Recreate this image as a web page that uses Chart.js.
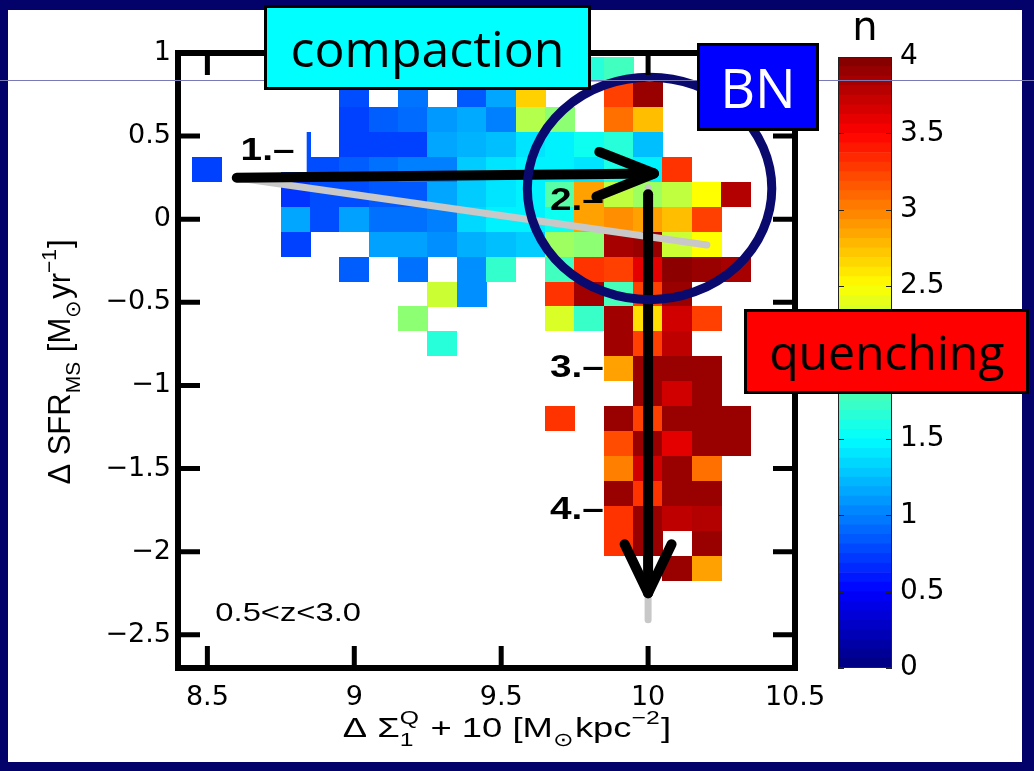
<!DOCTYPE html>
<html>
<head>
<meta charset="utf-8">
<script src="https://cdn.jsdelivr.net/npm/chart.js@4"></script>
<style>
  body { margin: 0; background: #02026a; width: 1034px; height: 771px; overflow: hidden; position: relative; }
  #panel { position: absolute; left: 8px; top: 10px; width: 1014px; height: 752px; background: #fff; }
  canvas { position: absolute; left: 0; top: 0; }
  .rule { position: absolute; left: 0; top: 80px; width: 1034px; height: 1px; background: #7a7ab8; }
  .box { position: absolute; border: 3px solid #000; box-sizing: border-box; display: flex;
         align-items: center; justify-content: center; font-family: "Open Sans", sans-serif; line-height: 1; }
  #comp { left: 264px; top: 5px; width: 327px; height: 85px; background: #00ffff; color: #000; font-size: 50px; }
  #bn { left: 697px; top: 43px; width: 122px; height: 88px; background: #0000ff; color: #fff; font-size: 54px; }
  #quen { left: 744px; top: 309px; width: 285px; height: 85px; background: #ff0000; color: #000; font-size: 48px; }
</style>
</head>
<body>
<div id="panel"></div>
<canvas id="main" width="1034" height="771"></canvas>
<canvas id="cbar" width="1034" height="771"></canvas>
<div class="rule"></div>
<div class="box" id="comp">compaction</div>
<div class="box" id="bn">BN</div>
<div class="box" id="quen">quenching</div>
<script>
// bin centres of the 2D histogram
const xCenters = [8.5, 8.6, 8.7, 8.8, 8.9, 9.0, 9.1, 9.2, 9.3, 9.4, 9.5, 9.6, 9.7, 9.8, 9.9, 10.0, 10.1, 10.2, 10.3];
const yCenters = [0.9, 0.75, 0.6, 0.45, 0.3, 0.15, 0, -0.15, -0.3, -0.45, -0.6, -0.75, -0.9, -1.05, -1.2, -1.35, -1.5, -1.65, -1.8, -1.95, -2.1];
const binWidth = 0.1;
const binHeight = 0.15;

// median Sersic n per bin (null = empty)
const _ = null;
const nGrid = [
  [_, _, _, _, _, _, _, _, _, _, _, _, _, 1.65, 1.75, _, _, _, _],
  [_, _, _, _, _, 0.8, _, 0.95, _, 0.85, 1.15, 2.68, _, _, 3.25, 3.9, _, _, _],
  [_, _, _, _, _, 0.75, 0.87, 0.92, 1.1, 1.17, 1.0, 2.2, 2.05, _, 3.06, 2.75, _, _, _],
  [_, _, _, 0.8, _, 0.75, 0.75, 0.75, 1.15, 1.2, 1.25, 1.4, 1.45, 1.55, 1.65, 1.25, _, _, _],
  [0.75, _, _, 0.8, 0.8, 0.87, 0.94, 1.0, 1.0, 1.3, 1.4, 1.45, 1.45, 1.4, 1.6, 1.45, 3.3, _, _],
  [_, _, _, 0.7, 0.8, 0.8, 0.85, 0.85, 1.15, 1.3, 1.4, 1.45, 1.85, 2.87, 2.25, 2.12, 2.25, 2.5, 3.8],
  [_, _, _, 1.15, 0.8, 1.13, 0.94, 0.94, 1.0, 1.35, 1.45, 1.45, 1.55, 2.87, 2.94, 2.87, 2.75, 3.25, _],
  [_, _, _, 0.75, _, _, 1.13, 1.13, 1.06, 1.19, 1.25, 1.3, 2.12, 2.05, 3.85, 3.9, 2.3, 2.5, _],
  [_, _, _, _, _, 0.87, _, 0.94, _, 1.06, 1.7, _, 1.75, 3.3, 3.25, 3.6, 3.95, 3.9, 3.85],
  [_, _, _, _, _, _, _, _, 2.3, 1.06, _, _, 3.3, 3.87, 1.78, 3.25, 3.9, _, _],
  [_, _, _, _, _, _, _, 2.05, _, _, _, _, 2.35, 1.72, 3.87, 2.62, 3.68, 3.25, _],
  [_, _, _, _, _, _, _, _, 1.65, _, _, _, _, _, 3.87, 3.25, 3.75, _, _],
  [_, _, _, _, _, _, _, _, _, _, _, _, _, _, 2.87, 3.9, 3.9, 3.9, _],
  [_, _, _, _, _, _, _, _, _, _, _, _, _, _, _, 3.9, 3.68, 3.9, _],
  [_, _, _, _, _, _, _, _, _, _, _, _, 3.3, _, 3.9, 3.25, 3.9, 3.9, 3.9],
  [_, _, _, _, _, _, _, _, _, _, _, _, _, _, 3.2, 3.9, 3.6, 3.9, 3.9],
  [_, _, _, _, _, _, _, _, _, _, _, _, _, _, 3.0, 3.68, 3.9, 3.06, _],
  [_, _, _, _, _, _, _, _, _, _, _, _, _, _, 3.9, 3.3, 3.9, 3.9, _],
  [_, _, _, _, _, _, _, _, _, _, _, _, _, _, 3.3, 3.9, 3.75, 3.8, _],
  [_, _, _, _, _, _, _, _, _, _, _, _, _, _, 3.3, 3.9, _, 3.9, _],
  [_, _, _, _, _, _, _, _, _, _, _, _, _, _, _, _, 3.9, 2.87, _]
];

const xTicks = [8.5, 9, 9.5, 10, 10.5];
const yTicks = [-2.5, -2, -1.5, -1, -0.5, 0, 0.5, 1];
const cbTicks = [0, 0.5, 1, 1.5, 2, 2.5, 3, 3.5, 4];
const nMax = 4;

const FONT = '"Liberation Sans", Arial, sans-serif';
const TICKFONT = '"DejaVu Sans", sans-serif';

function jet(n) {
  const t = Math.max(0, Math.min(1, n / nMax));
  const c = v => Math.round(255 * Math.max(0, Math.min(1, v)));
  return 'rgb(' + c(1.5 - Math.abs(4 * t - 3)) + ',' + c(1.5 - Math.abs(4 * t - 2)) + ',' + c(1.5 - Math.abs(4 * t - 1)) + ')';
}
const fmt = v => (v < 0 ? '\u2212' : '') + Math.abs(v);

let cells = [];
yCenters.forEach((y, i) => xCenters.forEach((x, j) => {
  const n = nGrid[i][j];
  if (n !== null) cells.push({x: x, y: y, n: n});
}));

// each bin is drawn as a filled rectangle sized from the scales
const cellCache = {};
function cellStyle(ctx) {
  if (!ctx.raw) return 'rect';
  const xs = ctx.chart.scales.x, ys = ctx.chart.scales.y;
  const w = Math.ceil(Math.abs(xs.getPixelForValue(binWidth) - xs.getPixelForValue(0)));
  const h = Math.ceil(Math.abs(ys.getPixelForValue(binHeight) - ys.getPixelForValue(0)));
  const col = jet(ctx.raw.n);
  const key = col + w + 'x' + h;
  if (!cellCache[key]) {
    const c = document.createElement('canvas');
    c.width = w; c.height = h;
    const g = c.getContext('2d');
    g.fillStyle = col;
    g.fillRect(0, 0, w, h);
    cellCache[key] = c;
  }
  return cellCache[key];
}

// text with sub/superscripts, optional horizontal stretch
function drawRich(ctx, parts, cx, base, fs, sx) {
  const big = fs + 'px ' + FONT, small = Math.round(fs * 0.68) + 'px ' + FONT;
  let w = 0;
  parts.forEach(p => {
    if (p.t) { ctx.font = big; w += ctx.measureText(p.t).width; }
    else {
      ctx.font = small;
      w += Math.max(p.sub ? ctx.measureText(p.sub).width : 0, p.sup ? ctx.measureText(p.sup).width : 0) + 1;
    }
  });
  ctx.save();
  ctx.translate(cx, base);
  ctx.scale(sx || 1, 1);
  let x = -w / 2;
  ctx.textAlign = 'left';
  ctx.textBaseline = 'alphabetic';
  parts.forEach(p => {
    if (p.t) { ctx.font = big; ctx.fillText(p.t, x, 0); x += ctx.measureText(p.t).width; }
    else {
      ctx.font = small;
      let ww = 0;
      if (p.sub) { ctx.fillText(p.sub, x, fs * 0.32); ww = ctx.measureText(p.sub).width; }
      if (p.sup) { ctx.fillText(p.sup, x, -fs * 0.45); ww = Math.max(ww, ctx.measureText(p.sup).width); }
      x += ww + 1;
    }
  });
  ctx.restore();
}

function stretchText(ctx, txt, x, y, sx) {
  ctx.save();
  ctx.translate(x, y);
  ctx.scale(sx, 1);
  ctx.fillText(txt, 0, 0);
  ctx.restore();
}

const overlays = {
  id: 'overlays',
  afterDatasetsDraw(chart) {
    const ctx = chart.ctx, xs = chart.scales.x, ys = chart.scales.y;
    const P = (x, y) => [xs.getPixelForValue(x), ys.getPixelForValue(y)];
    const line = (pts, col, lw) => {
      ctx.beginPath();
      pts.forEach((p, i) => { const q = P(p[0], p[1]); i ? ctx.lineTo(q[0], q[1]) : ctx.moveTo(q[0], q[1]); });
      ctx.strokeStyle = col; ctx.lineWidth = lw; ctx.lineCap = 'round'; ctx.lineJoin = 'round';
      ctx.stroke();
    };
    ctx.save();
    // label 1 has a white backing box
    const a = P(8.599, 0.548), b = P(8.838, 0.284);
    ctx.fillStyle = '#fff';
    ctx.fillRect(a[0], a[1], b[0] - a[0], b[1] - a[1]);
    // grey tracks
    line([[8.6, 0.25], [10.2, -0.155]], '#c8c8c8', 7);
    line([[10.0, 0.19], [10.0, -2.41]], '#c8c8c8', 7);
    // black arrows
    line([[8.6, 0.25], [10.02, 0.275]], '#000', 10);
    line([[9.834, 0.405], [10.02, 0.275], [9.824, 0.136]], '#000', 10);
    line([[10.0, 0.15], [10.0, -2.25]], '#000', 10);
    line([[9.92, -1.955], [10.0, -2.25], [10.08, -1.955]], '#000', 10);
    // BN circle
    const c = P(10.005, 0.185), rx = P(10.421, 0.185), ry = P(10.005, 0.854);
    ctx.beginPath();
    ctx.ellipse(c[0], c[1], Math.abs(rx[0] - c[0]), Math.abs(c[1] - ry[1]), 0, 0, Math.PI * 2);
    ctx.strokeStyle = '#0a0a6e'; ctx.lineWidth = 9; ctx.stroke();
    // stage labels
    ctx.fillStyle = '#000';
    ctx.font = 'bold 31px ' + FONT;
    ctx.textAlign = 'left'; ctx.textBaseline = 'alphabetic';
    [['1.\u2013', 8.613, 0.356], ['2.\u2013', 9.666, 0.056], ['3.\u2013', 9.666, -0.952], ['4.\u2013', 9.666, -1.804]]
      .forEach(l => { const q = P(l[1], l[2]); stretchText(ctx, l[0], q[0], q[1], 1.25); });
    ctx.font = '26px ' + FONT;
    const z = P(8.527, -2.416);
    stretchText(ctx, '0.5<z<3.0', z[0], z[1], 1.26);
    ctx.restore();
  },
  afterDraw(chart) {
    const ctx = chart.ctx, area = chart.chartArea, xs = chart.scales.x, ys = chart.scales.y;
    ctx.save();
    ctx.strokeStyle = '#000';
    ctx.lineWidth = 5;
    ctx.beginPath();
    xTicks.forEach(v => {
      const x = xs.getPixelForValue(v);
      ctx.moveTo(x, area.bottom); ctx.lineTo(x, area.bottom - 22);
      ctx.moveTo(x, area.top); ctx.lineTo(x, area.top + 22);
    });
    yTicks.forEach(v => {
      const y = ys.getPixelForValue(v);
      ctx.moveTo(area.left, y); ctx.lineTo(area.left + 22, y);
      ctx.moveTo(area.right, y); ctx.lineTo(area.right - 22, y);
    });
    ctx.stroke();
    ctx.lineWidth = 6;
    ctx.strokeRect(area.left, area.top, area.right - area.left, area.bottom - area.top);
    ctx.fillStyle = '#000';
    drawRich(ctx, [{t: '\u0394 \u03A3'}, {sub: '1', sup: 'Q'}, {t: ' + 10 [M'}, {sub: '\u2299'}, {t: 'kpc'}, {sup: '\u22122'}, {t: ']'}],
      507, 737, 28, 1.3);
    ctx.translate(70, 362);
    ctx.rotate(-Math.PI / 2);
    drawRich(ctx, [{t: '\u0394 SFR'}, {sub: 'MS'}, {t: ' [M'}, {sub: '\u2299'}, {t: 'yr'}, {sup: '\u22121'}, {t: ']'}],
      0, 0, 31, 1);
    ctx.restore();
  }
};

new Chart(document.getElementById('main'), {
  type: 'scatter',
  data: {
    datasets: [{
      data: cells,
      pointStyle: cellStyle,
      pointRadius: 5,
      pointHoverRadius: 5
    }]
  },
  options: {
    responsive: false,
    animation: false,
    devicePixelRatio: 1,
    layout: {padding: {left: 0, top: 53, right: 239, bottom: 0}},
    plugins: {legend: {display: false}, tooltip: {enabled: false}},
    scales: {
      x: {
        type: 'linear', min: 8.4, max: 10.5,
        afterBuildTicks: s => { s.ticks = xTicks.map(v => ({value: v})); },
        afterFit: s => { s.height = 103; },
        grid: {display: false, drawTicks: false}, border: {display: false},
        ticks: {color: '#000', font: {family: TICKFONT, size: 27}, padding: 14, maxRotation: 0, autoSkip: false, callback: v => fmt(v)}
      },
      y: {
        type: 'linear', min: -2.7, max: 1,
        afterBuildTicks: s => { s.ticks = yTicks.map(v => ({value: v})); },
        afterFit: s => { s.width = 178; },
        grid: {display: false, drawTicks: false}, border: {display: false},
        ticks: {color: '#000', font: {family: TICKFONT, size: 27}, padding: 7, autoSkip: false, callback: v => fmt(v)}
      }
    }
  },
  plugins: [overlays]
});

// colour bar: stacked slices through the jet map
const cbSlices = 64;
const cbSets = [];
for (let i = 0; i < cbSlices; i++) {
  cbSets.push({
    data: [nMax / cbSlices],
    backgroundColor: jet((i + 0.5) * nMax / cbSlices),
    borderWidth: 0,
    barPercentage: 1,
    categoryPercentage: 1,
    stack: 'cb'
  });
}

const cbFrame = {
  id: 'cbFrame',
  afterDraw(chart) {
    const ctx = chart.ctx, area = chart.chartArea, ys = chart.scales.y;
    ctx.save();
    ctx.strokeStyle = '#222';
    ctx.lineWidth = 1;
    ctx.beginPath();
    cbTicks.forEach(v => {
      const y = Math.round(ys.getPixelForValue(v)) + 0.5;
      ctx.moveTo(area.left, y); ctx.lineTo(area.left + 6, y);
      ctx.moveTo(area.right, y); ctx.lineTo(area.right - 6, y);
    });
    ctx.stroke();
    ctx.strokeRect(area.left + 0.5, area.top + 0.5, area.right - area.left - 1, area.bottom - area.top - 1);
    ctx.fillStyle = '#000';
    ctx.font = '40px ' + TICKFONT;
    ctx.textAlign = 'center';
    ctx.textBaseline = 'alphabetic';
    ctx.fillText('n', (area.left + area.right) / 2, 40);
    ctx.restore();
  }
};

new Chart(document.getElementById('cbar'), {
  type: 'bar',
  data: {labels: [''], datasets: cbSets},
  options: {
    responsive: false,
    animation: false,
    devicePixelRatio: 1,
    layout: {padding: {left: 838, top: 57, right: 0, bottom: 103}},
    plugins: {legend: {display: false}, tooltip: {enabled: false}},
    scales: {
      x: {display: false, stacked: true},
      y: {
        stacked: true, min: 0, max: nMax, position: 'right',
        afterBuildTicks: s => { s.ticks = cbTicks.map(v => ({value: v})); },
        afterFit: s => { s.width = 142; },
        grid: {display: false, drawTicks: false}, border: {display: false},
        ticks: {color: '#000', font: {family: TICKFONT, size: 28}, padding: 8, autoSkip: false, callback: v => fmt(v)}
      }
    }
  },
  plugins: [cbFrame]
});
</script>
</body>
</html>
